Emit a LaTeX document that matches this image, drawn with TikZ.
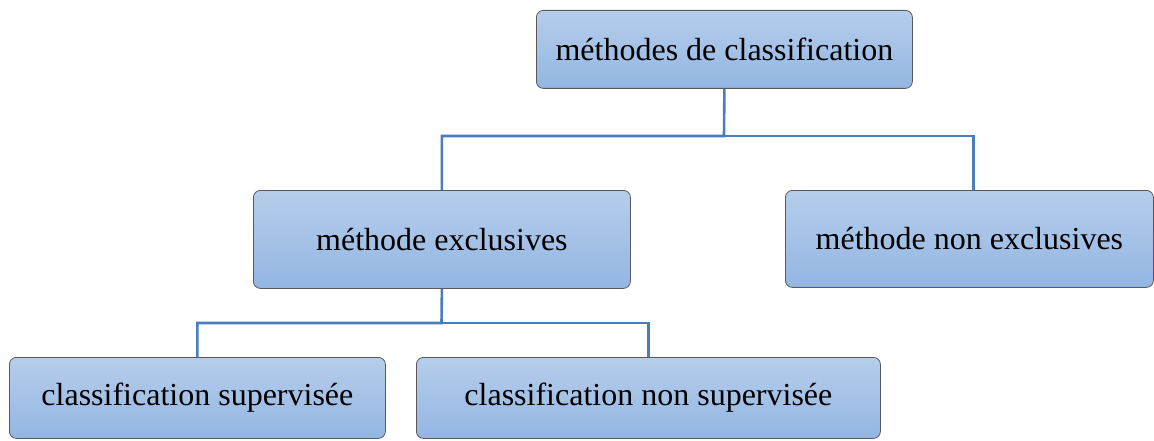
\documentclass[tikz,border=0pt]{standalone}
\usepackage{fontspec}
\setmainfont{Liberation Serif}
\begin{document}
\begin{tikzpicture}[x=1pt,y=-1pt,
  box/.style={draw=black!65, line width=0.8pt, rounded corners=7pt,
    top color=boxtop, bottom color=boxbot, inner sep=0pt, anchor=north west,
    font=\fontsize{32}{36}\selectfont, text=black},
  link/.style={draw=linkblue, line width=2.6pt}]
\definecolor{boxtop}{HTML}{B6CDEB}
\definecolor{boxbot}{HTML}{93B6E2}
\definecolor{linkblue}{HTML}{4A7EBB}
\useasboundingbox (0,0) rectangle (1154,441);
% boxes, positioned by their top-left corner
\node[box, minimum width=376pt, minimum height=78pt] (root) at (536,10) {méthodes de classification};
\node[box, minimum width=377pt, minimum height=98pt] (excl) at (253,190) {méthode exclusives};
\node[box, minimum width=368pt, minimum height=97pt] (nonexcl) at (785,190) {méthode non exclusives};
\node[box, minimum width=376pt, minimum height=81pt] (sup) at (9,357) {classification supervisée};
\node[box, minimum width=464pt, minimum height=81pt] (nonsup) at (416,357) {classification non supervisée};
% elbow connectors between the boxes
\coordinate (j1) at (724,136);
\coordinate (j2) at (441.5,323);
\draw[link] (root.south) -- (j1) -| (excl.north);
\draw[link] (j1) -| ([xshift=4pt]nonexcl.north);
\draw[link] (excl.south) -- (j2) -| (sup.north);
\draw[link] (j2) -| (nonsup.north);
\end{tikzpicture}
\end{document}
